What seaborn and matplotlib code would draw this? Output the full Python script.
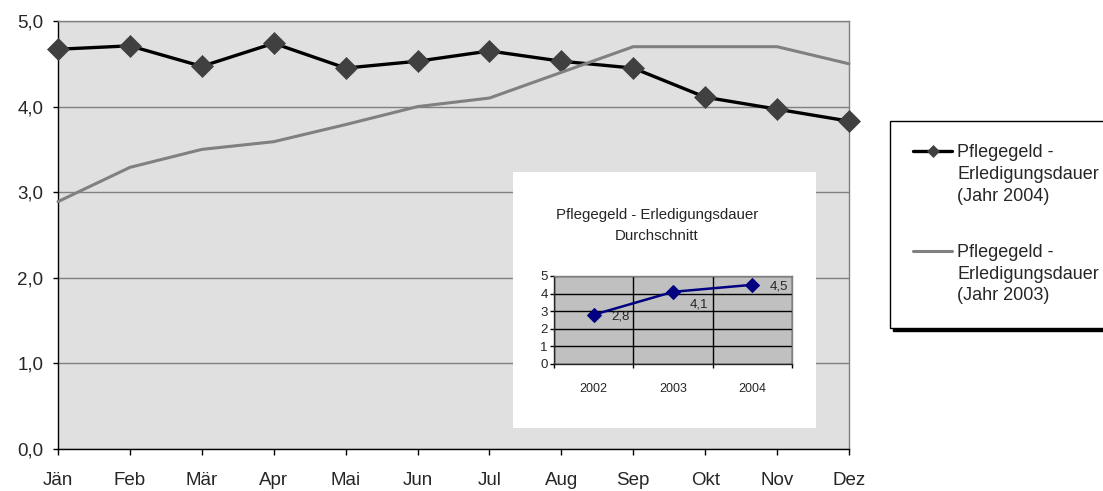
import numpy as np
import pandas as pd
import matplotlib
matplotlib.use("Agg")
import matplotlib.pyplot as plt
from matplotlib.legend_handler import HandlerLine2D
from matplotlib.ticker import FuncFormatter
import seaborn as sns

# Daten Hauptdiagramm (Monate)
monate = ["Jän", "Feb", "Mär", "Apr", "Mai", "Jun", "Jul", "Aug", "Sep", "Okt", "Nov", "Dez"]
dauer_2004 = [4.67, 4.71, 4.47, 4.74, 4.45, 4.53, 4.65, 4.53, 4.45, 4.11, 3.97, 3.83]
dauer_2003 = [2.89, 3.29, 3.50, 3.59, 3.79, 4.00, 4.10, 4.40, 4.70, 4.70, 4.70, 4.50]
label_2004 = "Pflegegeld -\nErledigungsdauer\n(Jahr 2004)"
label_2003 = "Pflegegeld -\nErledigungsdauer\n(Jahr 2003)"
y_ticks = [0, 1, 2, 3, 4, 5]

# Daten kleines Diagramm (Durchschnitt)
jahre = ["2002", "2003", "2004"]
durchschnitt = [2.8, 4.1, 4.5]
wert_labels = ["2,8", "4,1", "4,5"]
inset_titel = "Pflegegeld - Erledigungsdauer\nDurchschnitt"

sns.set_style("white")
plt.rcParams["font.family"] = ["Liberation Sans", "DejaVu Sans"]

W, H = 1103, 491
fig = plt.figure(figsize=(W / 100, H / 100), dpi=100)
fig.patch.set_facecolor("white")

# --- Hauptdiagramm ---
ax = fig.add_axes([58 / W, (H - 449) / H, 791 / W, 428 / H])
ax.set_facecolor("#e0e0e0")
df = pd.DataFrame({"Monat": monate, "j2004": dauer_2004, "j2003": dauer_2003})

sns.lineplot(data=df, x="Monat", y="j2004", sort=False, ax=ax, color="black", lw=2.4,
             marker="D", markersize=11.5, markerfacecolor="#404040",
             markeredgecolor="#404040", markeredgewidth=0.5, label=label_2004,
             clip_on=False, zorder=3)
sns.lineplot(data=df, x="Monat", y="j2003", sort=False, ax=ax, color="#808080", lw=2.2,
             label=label_2003, clip_on=False, zorder=4)
ax.get_legend().remove()

ax.set_xlim(0, len(monate) - 1)
ax.set_ylim(0, 5)
ax.set_yticks(y_ticks)
ax.yaxis.set_major_formatter(FuncFormatter(lambda v, p: f"{v:.1f}".replace(".", ",")))
ax.set_xlabel("")
ax.set_ylabel("")
ax.grid(axis="y", color="#808080", lw=1)
ax.grid(axis="x", visible=False)
ax.set_axisbelow(True)
for s in ["top", "right"]:
    ax.spines[s].set_color("#808080")
for s in ["left", "bottom"]:
    ax.spines[s].set_color("black")
for s in ax.spines.values():
    s.set_linewidth(1)
ax.tick_params(axis="x", direction="out", length=4.3, width=1, color="black",
               labelsize=13.5, pad=12, bottom=True)
ax.tick_params(axis="y", direction="out", length=3.6, width=1, color="black",
               labelsize=13.5, pad=7, left=True)


# --- Legende ---
class HandlerOben(HandlerLine2D):
    # Linie auf Hoehe der ersten Textzeile statt in der Mitte
    def create_artists(self, legend, orig_handle, xdescent, ydescent, width, height,
                       fontsize, trans):
        arts = super().create_artists(legend, orig_handle, xdescent, ydescent, width,
                                      height, fontsize, trans)
        for a in arts:
            a.set_ydata(np.asarray(a.get_ydata()) + 1.3 * fontsize)
        return arts


def kleiner_marker(leg_line, orig):
    leg_line.update_from(orig)
    leg_line.set_markersize(6)


handles = ax.get_lines()[:2]
hm = {h: HandlerOben(update_func=kleiner_marker) for h in handles}
leg = fig.legend(handles, [label_2004, label_2003], loc="upper left",
                 bbox_to_anchor=(890 / W, 1 - 121 / H, 222 / W, 0.0), mode="expand",
                 borderaxespad=0, fontsize=13, frameon=True, fancybox=False,
                 edgecolor="black", borderpad=1.3, labelspacing=2.2,
                 handlelength=2.15, handletextpad=0.28, handler_map=hm,
                 shadow={"color": "black", "alpha": 1})
leg.get_frame().set_linewidth(1)
for t in leg.get_texts():
    t.set_linespacing(1.35)

# --- weisser Kasten fuer kleines Diagramm ---
box = fig.add_axes([513 / W, (H - 428) / H, 303 / W, 256 / H])
box.set_facecolor("white")
box.set_xticks([])
box.set_yticks([])
for s in box.spines.values():
    s.set_visible(False)
box.text(0.475, 0.79, inset_titel, ha="center", va="center", multialignment="center",
         fontsize=10.8, linespacing=1.6, transform=box.transAxes)

# --- kleines Diagramm ---
ins = fig.add_axes([554 / W, (H - 364) / H, 238 / W, 88 / H])
ins.set_facecolor("#c0c0c0")
df2 = pd.DataFrame({"Jahr": jahre, "Wert": durchschnitt})
sns.lineplot(data=df2, x="Jahr", y="Wert", sort=False, ax=ins, color="#000080", lw=1.8,
             marker="D", markersize=7.5, markerfacecolor="#000080",
             markeredgecolor="#000080", clip_on=False)
offs = [(19, -1), (19, -9), (19, -1)]
for i, (v, lab) in enumerate(zip(durchschnitt, wert_labels)):
    ins.annotate(lab, (i, v), xytext=offs[i], textcoords="offset points",
                 ha="center", va="center", fontsize=9.5)
ins.set_xlim(-0.5, 2.5)
ins.set_ylim(0, 5)
ins.set_yticks([0, 1, 2, 3, 4, 5])
ins.set_xticks([-0.5, 0.5, 1.5, 2.5], minor=True)
ins.set_xlabel("")
ins.set_ylabel("")
ins.grid(axis="y", color="black", lw=1)
ins.grid(axis="x", which="minor", color="black", lw=1)
ins.grid(axis="x", which="major", visible=False)
ins.set_axisbelow(True)
ins.spines["top"].set_color("#808080")
ins.spines["right"].set_color("#808080")
for s in ins.spines.values():
    s.set_linewidth(1)
ins.tick_params(axis="x", which="major", length=0, labelsize=9, pad=13.5)
ins.tick_params(axis="x", which="minor", direction="out", length=3, width=1,
                color="black", bottom=True)
ins.tick_params(axis="y", direction="out", length=3, width=1, color="black",
                labelsize=9.5, pad=1.5, left=True)

fig.savefig("out.png", dpi=100)
